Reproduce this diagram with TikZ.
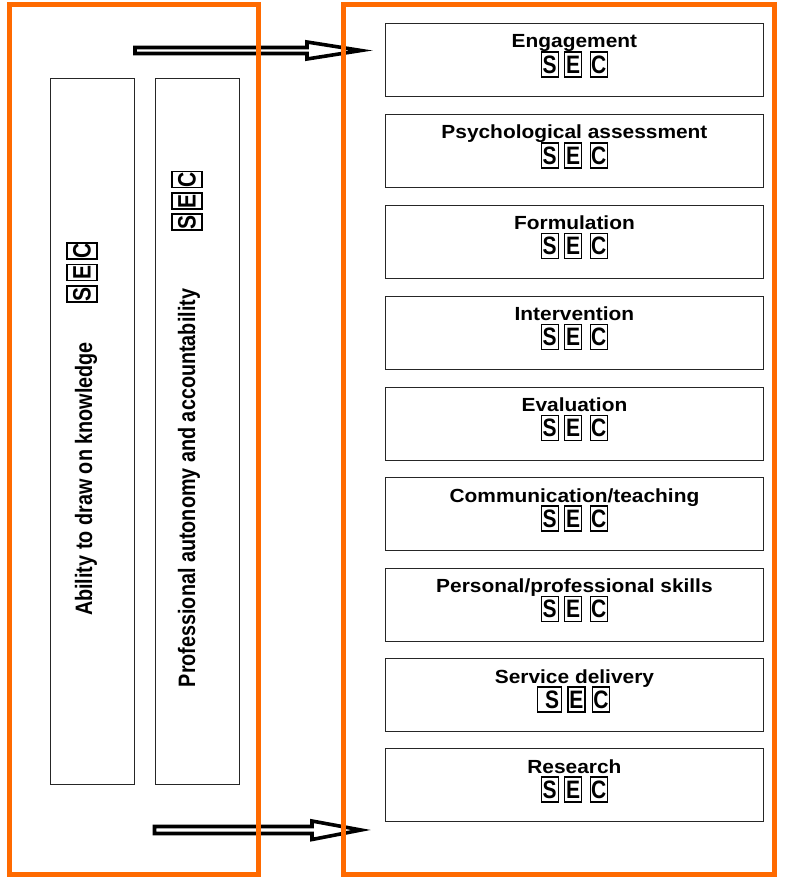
\documentclass[tikz,border=0pt]{standalone}
\usepackage{fontspec}
\setmainfont{Liberation Sans}
\usepackage{graphicx}
\definecolor{orng}{HTML}{FF6A00}
\tikzset{
  panel/.style={draw=orng, line width=5pt, inner sep=0pt, outer sep=0pt, anchor=north west},
  column/.style={draw=black!85, line width=1.4pt, inner sep=0pt, anchor=north west, minimum width=84pt, minimum height=706pt},
  compbox/.style={draw=black!85, line width=1.4pt, minimum width=377.5pt, minimum height=73pt, inner sep=0pt, anchor=north west},
  ttl/.style={font=\bfseries\fontsize{19}{19}\selectfont, inner sep=0pt, anchor=base},
  vtitle/.style={font=\bfseries\fontsize{19.8}{19.8}\selectfont, inner sep=0pt, anchor=base, rotate=90},
  letterbox/.style={draw=black, line width=1.1pt, inner sep=0pt, minimum width=17pt, minimum height=25pt, font=\bfseries\fontsize{21}{21}\selectfont},
  vletter/.style={letterbox, rotate=90, minimum width=16pt, minimum height=30pt},
  blockarrow/.style={draw=black, fill=white, line width=3.6pt, miter limit=10},
}
\newcommand\compbox[3]{%
  \node[compbox] (#1) at (385,#2) {};
  \node[ttl] (#1-t) at ([yshift=-25pt]#1.north) {\scalebox{1.1}[1]{#3}};
  \node[letterbox] (#1-s) at ([xshift=-24.75pt,yshift=-41.5pt]#1.north) {\scalebox{1}[1.2]{S}};
  \node[letterbox] (#1-e) at ([xshift=-1.25pt,yshift=-41.5pt]#1.north) {\scalebox{1}[1.2]{E}};
  \node[letterbox] (#1-c) at ([xshift=24.25pt,yshift=-41.5pt]#1.north) {\scalebox{1}[1.2]{C}};
}
\begin{document}
\begin{tikzpicture}[x=1pt,y=-1pt]
\useasboundingbox[fill=white] (0,0) rectangle (784,880);
% block arrows (under the panels)
\coordinate (a1) at (135,50.5);
\coordinate (a2) at (154.5,830);
\draw[blockarrow] (a1) ++(0,-3) -- ++(172,0) -- ++(0,-5.5) -- ++(54,8.5) -- ++(-54,8.5) -- ++(0,-5.5) -- ++(-172,0) -- cycle;
\draw[blockarrow] (a2) ++(0,-3.5) -- ++(157.5,0) -- ++(0,-5.5) -- ++(49,9) -- ++(-49,9.5) -- ++(0,-6) -- ++(-157.5,0) -- cycle;
% orange panels
\node[panel, minimum width=248.5pt, minimum height=869pt] (left) at (9.5,5) {};
\node[panel, minimum width=431pt, minimum height=869pt] (right) at (343.5,5) {};
% left columns
\node[column] (col1) at (49.5,78) {};
\node[column] (col2) at (154.5,78) {};
\node[vtitle] (abil) at (92,479) {\scalebox{1}[1.2]{Ability to draw on knowledge}};
\node[vtitle] (prof) at (195,488) {\scalebox{1}[1.2]{Professional autonomy and accountability}};
\node[vletter] (c1s) at (82,294) {\scalebox{1}[1.2]{S}};
\node[vletter] (c1e) at (82,272.5) {\scalebox{1}[1.2]{E}};
\node[vletter] (c1c) at (82,251) {\scalebox{1}[1.2]{C}};
\node[vletter] (c2s) at (187,222) {\scalebox{1}[1.2]{S}};
\node[vletter] (c2e) at (187,201) {\scalebox{1}[1.2]{E}};
\node[vletter] (c2c) at (187,179.5) {\scalebox{1}[1.2]{C}};
% competence boxes
\compbox{eng}{23}{Engagement}
\compbox{psy}{114}{Psychological assessment}
\compbox{form}{204.5}{Formulation}
\compbox{intv}{295.5}{Intervention}
\compbox{eval}{386.5}{Evaluation}
\compbox{comm}{477}{Communication/teaching}
\compbox{pers}{567.5}{Personal/professional skills}
\node[compbox] (serv) at (385,658) {};
\node[ttl] (serv-t) at ([yshift=-25pt]serv.north) {\scalebox{1.1}[1]{Service delivery}};
\node[letterbox, minimum width=24pt] (serv-s) at ([xshift=-24.75pt,yshift=-41.5pt]serv.north) {\hspace{5pt}\scalebox{1}[1.2]{S}};
\node[letterbox] (serv-e) at ([xshift=2pt,yshift=-41.5pt]serv.north) {\scalebox{1}[1.2]{E}};
\node[letterbox] (serv-c) at ([xshift=26.5pt,yshift=-41.5pt]serv.north) {\scalebox{1}[1.2]{C}};
\compbox{res}{748}{Research}
\end{tikzpicture}
\end{document}
